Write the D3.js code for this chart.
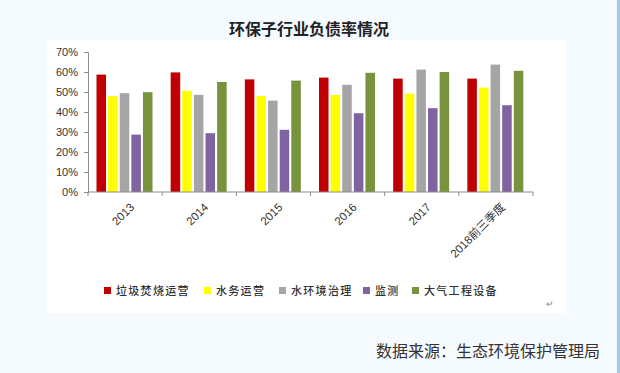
<!DOCTYPE html>
<html>
<head>
<meta charset="utf-8">
<script src="https://cdn.jsdelivr.net/npm/d3@7"></script>
<style>
  body { margin: 0; background: #f5faff; }
  svg { display: block; }
</style>
</head>
<body>
<div id="chart"></div>
<script>
var years = ["2013", "2014", "2015", "2016", "2017", "2018前三季度"];
var seriesNames = ["垃圾焚烧运营", "水务运营", "水环境治理", "监测", "大气工程设备"];
var colors = ["#c00000", "#ffff00", "#a5a5a5", "#8064a2", "#77933c"];
var s1 = [0.587, 0.598, 0.563, 0.572, 0.567, 0.567];
var s2 = [0.479, 0.506, 0.480, 0.485, 0.492, 0.522];
var s3 = [0.494, 0.486, 0.457, 0.536, 0.612, 0.637];
var s4 = [0.287, 0.294, 0.311, 0.394, 0.419, 0.434];
var s5 = [0.499, 0.550, 0.557, 0.596, 0.600, 0.606];
var yTicks = [0, 0.1, 0.2, 0.3, 0.4, 0.5, 0.6, 0.7];

var series = [s1, s2, s3, s4, s5];

var width = 620, height = 373;

var svg = d3.select("#chart").append("svg")
    .attr("width", width)
    .attr("height", height);

// page background + white panel
svg.append("rect").attr("width", width).attr("height", height).attr("fill", "#f5faff");
svg.append("rect").attr("x", 47).attr("y", 40).attr("width", 519).attr("height", 273).attr("fill", "#ffffff");
svg.append("rect").attr("x", 617).attr("y", 0).attr("width", 3).attr("height", height).attr("fill", "#9fcbe6");

svg.append("text")
    .attr("x", 309).attr("y", 35)
    .attr("text-anchor", "middle")
    .style("font-family", "'Noto Sans CJK SC', sans-serif")
    .style("font-size", "16px")
    .style("font-weight", "bold")
    .style("fill", "#222")
    .text("环保子行业负债率情况");

var x = d3.scaleBand().domain(years).range([88, 533]);
var xi = d3.scaleBand().domain(d3.range(5)).range([8.5, 64.5]).paddingInner(0.18);
var y = d3.scaleLinear().domain([0, 0.7]).range([192, 52]);

var g = svg.append("g");

var groups = g.selectAll(".grp")
    .data(years)
  .enter().append("g")
    .attr("class", "grp")
    .attr("transform", function(d) { return "translate(" + x(d) + ",0)"; });

groups.selectAll("rect")
    .data(function(d, i) { return series.map(function(s, k) { return {k: k, v: s[i]}; }); })
  .enter().append("rect")
    .attr("x", function(d) { return xi(d.k); })
    .attr("width", xi.bandwidth())
    .attr("y", function(d) { return y(d.v); })
    .attr("height", function(d) { return y(0) - y(d.v); })
    .attr("fill", function(d) { return colors[d.k]; });

// y axis
var yAxis = g.append("g")
    .attr("transform", "translate(88,0)")
    .call(d3.axisLeft(y).tickValues(yTicks).tickFormat(d3.format(".0%")).tickSize(4).tickPadding(6));
yAxis.selectAll("text")
    .style("font-family", "Arial, 'Liberation Sans', sans-serif")
    .style("font-size", "11px")
    .style("fill", "#333");
yAxis.selectAll("path, line").attr("stroke", "#8c8c8c");

// x axis
var xAxis = g.append("g")
    .attr("transform", "translate(0,192)");
xAxis.append("line")
    .attr("x1", 88).attr("x2", 533)
    .attr("stroke", "#8c8c8c");
xAxis.selectAll(".tk")
    .data(years.concat(["end"]))
  .enter().append("line")
    .attr("x1", function(d, i) { return 88 + i * x.step(); })
    .attr("x2", function(d, i) { return 88 + i * x.step(); })
    .attr("y1", 0).attr("y2", 4)
    .attr("stroke", "#8c8c8c");
xAxis.selectAll(".lbl")
    .data(years)
  .enter().append("text")
    .attr("transform", function(d) { return "translate(" + (x(d) + x.bandwidth() / 2 + 7) + ",13) rotate(-45)"; })
    .attr("text-anchor", "end")
    .attr("dy", "0.35em")
    .style("font-family", "Arial, 'Liberation Sans', 'Noto Sans CJK SC', sans-serif")
    .style("font-size", "11.5px")
    .style("fill", "#333")
    .text(function(d) { return d; });

// legend
var legendX = [104, 204, 279, 363, 412];
var lg = svg.selectAll(".leg")
    .data(seriesNames)
  .enter().append("g")
    .attr("transform", function(d, i) { return "translate(" + legendX[i] + ",291)"; });
lg.append("rect")
    .attr("x", 0).attr("y", -4)
    .attr("width", 7).attr("height", 7)
    .attr("fill", function(d, i) { return colors[i]; });
lg.append("text")
    .attr("x", 12).attr("y", 4)
    .style("font-family", "'Noto Sans CJK SC', sans-serif")
    .style("font-size", "11px")
    .style("font-weight", "500")
    .style("letter-spacing", "1.3px")
    .style("fill", "#333")
    .text(function(d) { return d; });

svg.append("text")
    .attr("x", 546).attr("y", 307)
    .style("font-size", "9px")
    .style("fill", "#888")
    .text("↵");

svg.append("text")
    .attr("x", 600).attr("y", 357)
    .attr("text-anchor", "end")
    .style("font-family", "'Noto Sans CJK SC', sans-serif")
    .style("font-size", "16px")
    .style("fill", "#333")
    .text("数据来源：生态环境保护管理局");
</script>
</body>
</html>
